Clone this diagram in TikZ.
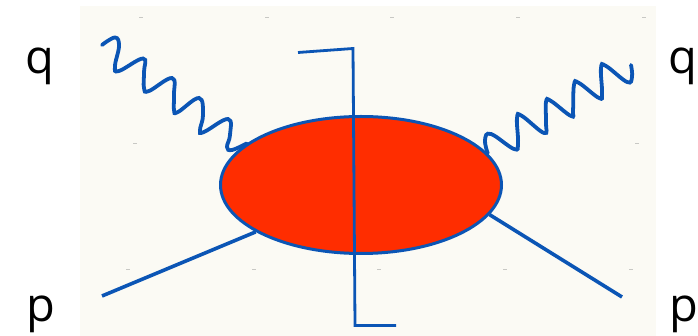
\documentclass[tikz,border=0pt]{standalone}
\usepackage{fontspec}
\setmainfont{Open Sans}
\usetikzlibrary{shapes.geometric}
\definecolor{panelcream}{RGB}{251,250,244}
\definecolor{lineblue}{RGB}{11,85,181}
\definecolor{blobred}{RGB}{255,45,0}
\definecolor{tickgray}{RGB}{200,200,196}

\begin{document}
\begin{tikzpicture}[
		x=1pt, y=-1pt,
		blob/.style={draw=lineblue, line width=3pt, ellipse, fill=blobred, inner sep=0pt, minimum width=281pt, minimum height=137pt},
		lbl/.style={anchor=base, inner sep=0pt, font=\fontsize{47}{47}\selectfont},
		leg/.style={draw=lineblue, line width=3.6pt},
		wave/.style={draw=lineblue, line width=3.8pt, line cap=round},
		cut/.style={draw=lineblue, line width=2.8pt},
		tick/.style={draw=tickgray, line width=1pt}
		]
		\useasboundingbox (0,0) rectangle (698,336);
		\clip (0,0) rectangle (698,336);
		\fill[panelcream] (80,6) rectangle (656,336);
		
		\foreach \tx in {141,267,392,518,644} \draw[tick] (\tx-2,18) -- (\tx+2,18);
		\foreach \tx in {135,637} \draw[tick] (\tx-2,144) -- (\tx+2,144);
		\foreach \tx in {128,254,379,505,631} \draw[tick] (\tx-2,270) -- (\tx+2,270);
		
		\node[blob] (core) at (361,185) {};
		\node[lbl] (qleft) at (40,74) {q};
		\node[lbl] (qright) at (682.5,74) {q};
		\node[lbl] (pleft) at (41,321) {p};
		\node[lbl] (pright) at (684,321) {p};
		
		\coordinate (wavea) at (102,45);
		\coordinate (waveb) at (631,65);
		\coordinate (lega) at (102,296);
		\coordinate (legb) at (622,297);
		\coordinate (cuta) at (298,52.5);
		\coordinate (cutb) at (353,48.5);
		\coordinate (cutc) at (355,325.5);
		\coordinate (cutd) at (396,325.5);
		
		\draw[leg] (lega) -- (core.204);
		\draw[leg] (legb) -- (core.-13.5);
		\draw[wave] plot[smooth, tension=0.7] coordinates {(wavea) (115,37.5) (119,46) (115,66) (119,71) (143,58.5) (144,72) (144,88) (149,91) (172,78) (174,95) (174,110) (178,112) (199,98) (203,115) (200,130) (204,132) (228,119) (230,135) (227,147) (232,150) (core.160.5)};
		\draw[wave] plot[smooth, tension=0.7] coordinates {(core.14.7) (485,140) (491,134) (514,149) (518,143) (517,118) (522,116) (544,133) (546,123) (546,102) (551,101) (571,116) (573,110) (574,85) (579,83) (599,98) (602,93) (601,68) (606,66) (627,82) (632,77) (waveb)};
		\draw[cut] (cuta) -- (cutb) -- (cutc) -- (cutd);
	\end{tikzpicture}
\end{document}
